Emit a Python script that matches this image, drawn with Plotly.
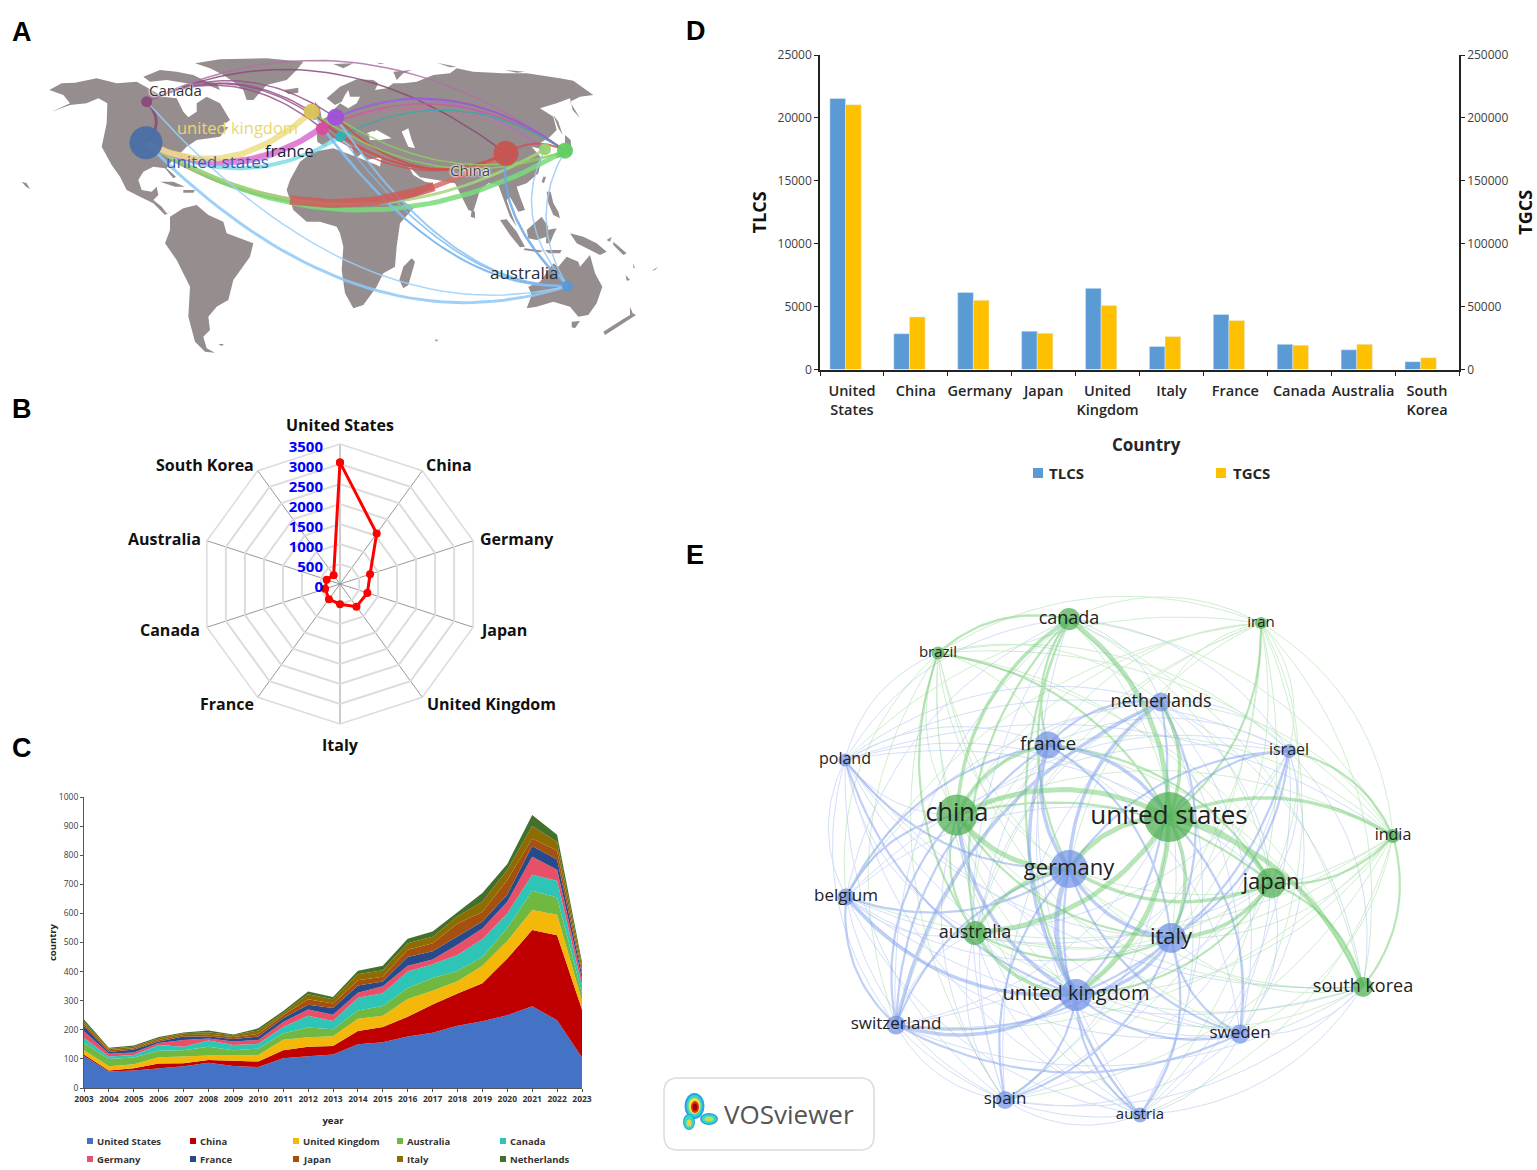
import itertools
import plotly.graph_objects as go

W, H = 1537, 1170
FONT = "Open Sans"
GRAY = "#404040"

# ---- A: world map, outlines (map units = 3 per pixel)
land = [
    # north america
    [(88,150),(125,130),(165,128),(230,115),(290,130),(350,125),(385,145),(430,170),(470,175),(490,215),(505,232),(530,215),(530,190),(560,170),(600,190),(630,240),(605,258),(625,262),(600,290),(530,300),(500,320),(470,350),(450,370),(440,385),(468,410),(460,415),(435,385),(400,380),(370,395),(355,420),(365,450),(395,455),(410,440),(415,465),(400,480),(425,500),(440,520),(450,515),(435,525),(400,490),(360,470),(320,450),(300,410),(275,375),(245,320),(260,250),(262,190),(235,175),(200,190),(150,195),(95,215),(150,190),(130,165)],
    [(370,110),(420,90),(470,95),(520,105),(560,125),(590,130),(600,150),(550,130),(500,130),(440,120),(390,125)],
    [(525,70),(600,58),(740,55),(850,65),(830,90),(800,120),(740,135),(700,180),(680,180),(670,150),(640,125),(610,105),(570,85)],
    [(420,425),(460,425),(495,440),(465,440)],
    [(490,450),(525,450),(520,458),(490,458)],
    [(790,150),(835,143),(835,158),(805,162)],
    [(5,425),(20,430),(30,447),(18,440)],
    # south america
    [(450,530),(490,505),(530,495),(565,525),(610,545),(620,580),(700,610),(690,650),(640,720),(625,780),(590,800),(565,830),(570,870),(550,890),(560,925),(585,938),(555,935),(525,905),(505,830),(510,740),(470,660),(435,610),(450,570)],
    [(595,912),(612,912),(605,918)],
    # africa
    [(800,450),(810,420),(840,365),(880,335),(940,325),(1020,355),(1070,375),(1090,385),(1145,480),(1180,505),(1140,550),(1130,620),(1125,680),(1090,700),(1070,740),(1030,795),(1000,805),(975,760),(965,690),(970,620),(960,580),(950,560),(900,545),(860,545),(820,510)],
    [(1175,655),(1185,665),(1165,735),(1150,745),(1138,720),(1150,680)],
    # eurasia
    [(892,305),(890,272),(915,265),(905,240),(930,225),(945,205),(960,190),(985,205),(1010,190),(1020,170),(990,170),(985,150),(975,165),(965,185),(945,195),(920,175),(960,140),(1010,118),(1060,120),(1075,130),(1065,150),(1100,145),(1120,130),(1150,130),(1190,125),(1240,105),(1290,100),(1310,85),(1360,95),(1450,100),(1520,100),(1620,115),(1660,122),(1720,165),(1680,170),(1650,185),(1680,235),(1658,210),(1650,175),(1610,190),(1560,205),(1600,230),(1610,270),(1590,290),(1560,310),(1575,335),(1555,325),(1535,320),(1565,355),(1555,400),(1520,430),(1490,440),(1500,470),(1515,510),(1495,515),(1470,470),(1460,480),(1470,510),(1490,560),(1470,530),(1455,490),(1435,435),(1405,430),(1380,450),(1360,515),(1345,510),(1315,450),(1305,430),(1250,420),(1200,412),(1165,378),(1180,405),(1215,425),(1240,430),(1210,460),(1145,485),(1125,450),(1090,395),(1080,380),(1085,350),(1040,360),(1025,340),(1020,345),(1005,355),(995,320),(960,295),(930,300),(915,320)],
    [(885,185),(900,205),(905,235),(880,240),(885,215)],
    [(860,215),(875,215),(870,235),(855,232)],
    [(940,72),(1000,70),(970,85)],
    [(1070,68),(1095,70),(1080,72)],
    [(1250,68),(1310,80),(1290,82)],
    [(1455,90),(1515,95),(1490,98)],
    [(1120,95),(1175,90),(1150,100),(1130,120)],
    # japan, east and south-east asia
    [(1600,225),(1615,245),(1628,285),(1615,265)],
    [(1635,285),(1652,300),(1655,340),(1610,355),(1605,345),(1635,325)],
    [(1570,410),(1578,410),(1572,430),(1565,425)],
    [(1580,455),(1592,455),(1600,490),(1615,515),(1620,535),(1600,525),(1585,490)],
    [(1355,510),(1365,515),(1365,535),(1352,530)],
    [(1440,540),(1460,538),(1490,575),(1515,620),(1500,622),(1470,585)],
    [(1520,570),(1565,530),(1585,560),(1580,590),(1550,600),(1525,595)],
    [(1515,625),(1570,632),(1560,637),(1510,630)],
    [(1575,630),(1625,630),(1620,640),(1585,640)],
    [(1580,570),(1610,565),(1600,585),(1590,610),(1578,610)],
    [(1650,580),(1690,590),(1730,610),(1760,635),(1740,645),(1700,625),(1670,610)],
    [(1760,600),(1775,590),(1770,605)],
    [(1780,605),(1820,640),(1810,645),(1780,615)],
    # australia and around
    [(1525,740),(1560,725),(1600,670),(1615,680),(1640,650),(1675,665),(1680,680),(1710,645),(1725,700),(1747,740),(1730,790),(1705,825),(1675,830),(1650,800),(1600,785),(1550,800),(1520,805),(1535,765)],
    [(1655,845),(1680,843),(1665,865),(1655,862)],
    [(1830,800),(1838,820),(1848,825),(1810,850),(1755,885),(1750,875),(1805,840),(1830,825)],
    [(1840,670),(1845,685),(1840,683)],
    [(1895,692),(1915,680),(1905,690)],
    [(1817,705),(1830,720),(1820,722)],
    [(1245,898),(1255,900),(1248,905)],
]
inland_seas = [
    [(1045,285),(1070,270),(1115,295),(1080,300),(1050,300)],
    [(1145,275),(1165,265),(1175,300),(1185,325),(1165,320)],
    [(1040,280),(1060,272),(1062,290)],
]

map_nodes = {
    "us": (378, 308, 33, "#4a6fa5"), "ca": (380, 185, 11, "#8a4a7a"), "uk": (875, 215, 16, "#d9c45a"),
    "de": (947, 232, 17, "#a050d8"), "fr": (907, 266, 13, "#d84a9c"), "it": (962, 290, 11, "#30b0b8"),
    "cn": (1458, 340, 25, "#c85450"), "kr": (1575, 328, 12, "#98d070"), "jp": (1635, 332, 16, "#60d060"),
    "au": (1642, 738, 11, "#5898d8"),
}
# source, target, colour, width, sideways shift and drop of the curve middle
map_flows = [
    ("us","cn","#d96b68",5,0,166), ("us","jp","#79dc79",5,0,190), ("us","kr","#a5d67b",3,0,175),
    ("us","it","#7fdfe6",4,0,86), ("us","de","#c880ea",6,0,95), ("us","fr","#e77cd0",5,0,75), ("us","uk","#eedf85",6,0,89),
    ("ca","us","#8a4a7a",3,30,0), ("ca","uk","#96558a",1.5,0,-70), ("ca","de","#96558a",1.5,0,-85),
    ("ca","fr","#96558a",1.5,0,-85), ("ca","it","#96558a",1.5,0,-100), ("ca","cn","#8a4a7a",1.5,0,-165), ("ca","jp","#b070a5",1.5,0,-190),
    ("de","jp","#9a55dd",2,0,-100), ("de","kr","#a46be0",1,0,-95), ("fr","jp","#d05a9a",1.5,0,-105), ("fr","kr","#d06aa0",1,0,-90),
    ("it","jp","#3aa9a9",1.5,0,-100), ("uk","cn","#cc5555",2,0,100), ("de","cn","#c9504a",2,0,95), ("fr","cn","#cc5555",1.5,0,85),
    ("it","cn","#cc5555",1.5,0,70), ("cn","jp","#cc5555",2,0,-25), ("uk","jp","#8fcf60",1.5,0,105), ("de","jp","#8fcf60",1.5,0,85),
    ("us","au","#8fc9f7",3,0,210), ("ca","au","#9bd0f8",1.5,0,215), ("de","au","#8cc4f5",2,0,130), ("uk","au","#8cc4f5",2,0,140),
    ("fr","au","#7db8ee",1.5,0,125), ("it","au","#7db8ee",1.5,0,115), ("cn","au","#6aaae6",2.5,-60,0),
    ("kr","au","#9ccbf5",1.5,-70,0), ("jp","au","#9ccbf5",1.5,-60,0),
]

# ---- B: radar
radar_countries = ["United States","China","Germany","Japan","United Kingdom","Italy","France","Canada","Australia","South Korea"]
radar_values = [3040, 1560, 790, 720, 700, 505, 470, 390, 350, 270]
# where the country names sit, by their centre
radar_label_pos = [(340,425),(449,465),(517,539),(503,630),(491,704),(340,745),(227,704),(170,630),(164,539),(205,465)]

# ---- C: yearly stacked area
years = list(range(2003, 2024))
area_series = {
    "United States": [110,57,60,68,75,87,76,72,102,109,115,150,157,177,190,214,229,250,281,233,105],
    "China": [5,3,8,16,10,9,18,19,28,33,29,46,53,68,97,111,131,195,262,292,165],
    "United Kingdom": [15,15,14,22,23,16,18,22,36,32,34,42,38,61,47,42,60,60,69,70,30],
    "Australia": [25,25,23,22,22,30,18,22,21,34,24,28,34,38,44,35,30,45,66,60,25],
    "Canada": [17,8,8,20,12,21,18,17,23,40,28,44,44,56,47,55,62,50,55,57,27],
    "Germany": [23,10,9,7,23,7,12,13,17,22,22,17,24,20,17,35,36,40,62,38,23],
    "France": [17,6,10,5,12,7,8,12,13,16,23,25,16,30,28,28,24,25,37,35,15],
    "Japan": [8,6,5,5,5,6,7,9,10,19,15,18,16,25,27,45,33,50,25,30,13],
    "Italy": [8,5,5,6,6,9,6,12,8,17,15,21,23,22,23,25,35,35,43,30,17],
    "Netherlands": [7,3,4,4,3,6,3,7,7,10,8,12,15,16,18,15,30,20,38,25,12],
}
area_colors = ["#4472c4","#c00000","#f4b80a","#70b83f","#2ec4b6","#e8506a","#264a8a","#a5500f","#8e6c00","#43702b"]

# ---- D: bars
bar_countries = ["United<br>States","China","Germany","Japan","United<br>Kingdom","Italy","France","Canada","Australia","South<br>Korea"]
tlcs = [21550, 2850, 6130, 3050, 6450, 1830, 4380, 2000, 1570, 620]
tgcs = [210500, 41800, 55000, 28800, 50800, 26200, 39000, 19300, 20000, 9300]

# ---- E: collaboration network: label, x, y, node size, label size, cluster
net_nodes = {
    "us": ("united states",1169,817,50,26,"g"), "cn": ("china",957,815,41,25,"g"), "jp": ("japan",1271,883,30,22,"g"),
    "ca": ("canada",1069,619,22,18,"g"), "au": ("australia",975,933,24,18,"g"), "kr": ("south korea",1363,987,20,18,"g"),
    "in": ("india",1393,836,14,16,"g"), "ir": ("iran",1261,623,12,15,"g"), "br": ("brazil",938,653,13,15,"g"),
    "de": ("germany",1069,869,38,22,"b"), "it": ("italy",1171,938,30,22,"b"), "uk": ("united kingdom",1076,995,32,20,"b"),
    "fr": ("france",1048,745,27,19,"b"), "nl": ("netherlands",1161,702,19,18,"b"), "il": ("israel",1289,751,14,16,"b"),
    "pl": ("poland",845,760,13,16,"b"), "be": ("belgium",846,897,17,17,"b"), "ch": ("switzerland",896,1025,19,17,"b"),
    "se": ("sweden",1240,1034,19,17,"b"), "es": ("spain",1005,1100,18,17,"b"), "at": ("austria",1140,1115,15,15,"b"),
}
# the first node of a weighted link gives its colour
links_heavy = [("us","cn"),("us","ca"),("us","de"),("us","uk"),("us","jp"),("us","kr"),("de","uk"),("cn","de"),("us","au")]
links_mid = [("us","it"),("fr","us"),("uk","cn"),("us","nl"),("us","in"),("de","it"),("uk","it"),("de","fr"),("uk","ch"),("fr","uk"),("nl","de"),("jp","de"),("uk","be"),("cn","fr"),("au","de"),("cn","ca"),("au","uk"),("jp","it"),("nl","ch")]
links_light = [("il","us"),("us","ir"),("se","us"),("us","br"),("cn","jp"),("cn","au"),("cn","it"),("au","it"),("jp","uk"),("jp","fr"),("ca","fr"),("ca","de"),("ca","uk"),("ca","br"),("be","de"),("be","cn"),("be","fr"),("ch","de"),("ch","it"),("ch","fr"),("ch","se"),("se","uk"),("se","it"),("se","de"),("es","uk"),("es","de"),("es","it"),("at","uk"),("at","de"),("at","it"),("nl","uk"),("nl","it"),("nl","fr"),("il","it"),("il","uk"),("il","de"),("pl","uk"),("pl","de"),("jp","kr"),("jp","in"),("fr","it"),("ch","cn"),("ch","be"),("br","au"),("ca","au"),("in","il"),("in","kr")]

panel_letters = {"A": (10, 15), "B": (10, 409), "C": (10, 748), "D": (696, 14), "E": (695, 555)}


def px(x):
    return x / W


def py(y):
    return 1 - y / H


def curve(a, b, ctrl, n=24):
    xs, ys = [], []
    for i in range(n + 1):
        t = i / n
        xs.append((1 - t) ** 2 * a[0] + 2 * t * (1 - t) * ctrl[0] + t ** 2 * b[0])
        ys.append((1 - t) ** 2 * a[1] + 2 * t * (1 - t) * ctrl[1] + t ** 2 * b[1])
    return xs, ys


shapes = []


def add_polygons(polys, color):
    # drawn as path shapes on the map's own axes, under the flows
    for poly in polys:
        path = "M " + " L ".join(f"{p[0]} {p[1]}" for p in poly) + " Z"
        shapes.append(dict(type="path", xref="x", yref="y", path=path, fillcolor=color, line=dict(width=0), layer="below"))


fig = go.Figure()

# A: map panel
add_polygons(land, "#968e8e")
add_polygons(inland_seas, "#ffffff")
for src, dst, color, width, dx, dy in map_flows:
    a, b = map_nodes[src], map_nodes[dst]
    ctrl = ((a[0] + b[0]) / 2 + 2 * dx, (a[1] + b[1]) / 2 + 2 * dy)
    cx, cy = curve(a, b, ctrl, 40)
    fig.add_trace(go.Scatter(x=cx, y=cy, mode="lines", line=dict(color=color, width=width), opacity=0.85, hoverinfo="skip", xaxis="x", yaxis="y"))
# thick red stretch of the us-china flow
a, b = map_nodes["us"], map_nodes["cn"]
cx, cy = curve(a, b, ((a[0] + b[0]) / 2, (a[1] + b[1]) / 2 + 332), 40)
fig.add_trace(go.Scatter(x=cx[16:33], y=cy[16:33], mode="lines", line=dict(color="#cb5f5c", width=9), opacity=0.85, hoverinfo="skip", xaxis="x", yaxis="y"))
fig.add_trace(go.Scatter(
    x=[n[0] for n in map_nodes.values()], y=[n[1] for n in map_nodes.values()], mode="markers",
    marker=dict(size=[n[2] for n in map_nodes.values()], color=[n[3] for n in map_nodes.values()], opacity=0.95, line=dict(width=0)),
    hoverinfo="skip", xaxis="x", yaxis="y"))

# B: radar
fig.add_trace(go.Scatterpolar(
    r=radar_values + radar_values[:1], theta=radar_countries + radar_countries[:1], mode="lines+markers",
    line=dict(color="#ff0000", width=3), marker=dict(color="#ff0000", size=8), subplot="polar"))

# C: stacked area
for (name, vals), color in zip(area_series.items(), area_colors):
    fig.add_trace(go.Scatter(x=years, y=vals, name=name, mode="lines", stackgroup="one", fillcolor=color,
                             line=dict(width=0, color=color), xaxis="x2", yaxis="y2"))

# D: bars on two scales
fig.add_trace(go.Bar(x=bar_countries, y=tlcs, name="TLCS", marker_color="#5b9bd5", width=0.245, offset=-0.345, xaxis="x3", yaxis="y3"))
fig.add_trace(go.Bar(x=bar_countries, y=tgcs, name="TGCS", marker_color="#ffc000", width=0.245, offset=-0.10, xaxis="x3", yaxis="y4"))

# E: network
center = (1110, 850)
weights = {}
for pair in links_heavy:
    weights[pair] = 5
for pair in links_mid:
    weights[pair] = 3.5
for pair in links_light:
    weights[pair] = 2.2
edge_groups = {}
for p, q in itertools.combinations(net_nodes, 2):
    a, b = net_nodes[p], net_nodes[q]
    if (p, q) in weights:
        w, cluster = weights[(p, q)], a[5]
    elif (q, p) in weights:
        w, cluster = weights[(q, p)], b[5]
    else:
        # thin links take the colour of the smaller node
        w, cluster = 1, (a[5] if a[3] < b[3] else b[5])
    ax, ay, bx, by = a[1], a[2], b[1], b[2]
    mx, my = (ax + bx) / 2, (ay + by) / 2
    nx, ny = -(by - ay), bx - ax
    if nx * (mx - center[0]) + ny * (my - center[1]) < 0:
        nx, ny = -nx, -ny
    cx, cy = curve((ax, ay), (bx, by), (mx + 0.25 * nx, my + 0.25 * ny))
    group = edge_groups.setdefault((cluster, w), ([], []))
    group[0].extend(cx + [None])
    group[1].extend(cy + [None])
edge_colors = {"g": "#6fcb6f", "b": "#7b9cec"}
for (cluster, w), (ex, ey) in sorted(edge_groups.items(), key=lambda kv: kv[0][1]):
    fig.add_trace(go.Scatter(x=ex, y=ey, mode="lines", line=dict(color=edge_colors[cluster], width=w),
                             opacity=0.32 if w <= 1 else 0.48, hoverinfo="skip", xaxis="x4", yaxis="y5"))
nodes = list(net_nodes.values())
fig.add_trace(go.Scatter(
    x=[n[1] for n in nodes], y=[n[2] for n in nodes], text=[n[0] for n in nodes], mode="markers+text",
    textposition="middle center", textfont=dict(family=FONT, size=[n[4] for n in nodes], color="#222222"),
    marker=dict(size=[n[3] for n in nodes], color=["#48ad4c" if n[5] == "g" else "#6e90e4" for n in nodes], line=dict(width=0)),
    hoverinfo="skip", xaxis="x4", yaxis="y5"))

annotations = []


def label(x, y, text, size, color="#000000", weight="normal", xanchor="center", shadow="none", angle=0):
    annotations.append(dict(x=px(x), y=py(y), xref="paper", yref="paper", text=text, showarrow=False, xanchor=xanchor,
                            yanchor="middle", textangle=angle, font=dict(family=FONT, size=size, color=color, weight=weight, shadow=shadow)))


for letter, (lx, ly) in panel_letters.items():
    annotations.append(dict(x=px(lx), y=py(ly), xref="paper", yref="paper", text=letter, showarrow=False,
                            font=dict(family="Liberation Sans", size=27, color="#000000", weight="bold")))

halo = "white 0 0 2px, white 0 0 2px, white 0 0 3px"
label(175, 90, "Canada", 15, "#333333", shadow=halo)
label(237, 127, "united kingdom", 16.5, "#e8d870")
label(289, 150, "france", 16.5, "#222233")
label(218, 162, "united states", 17, "#3a5fb0")
label(470, 170, "China", 15, "#444444", shadow=halo)
label(524, 272, "australia", 17, "#2a2f3a")

for name, (lx, ly) in zip(radar_countries, radar_label_pos):
    label(lx, ly, name, 16, "#111111", "bold")


def swatch(x0, y, size, color):
    shapes.append(dict(type="rect", xref="paper", yref="paper", x0=px(x0), x1=px(x0 + size), y0=py(y + size / 2), y1=py(y - size / 2),
                       fillcolor=color, line=dict(width=0)))


# C legend, two rows of five
legend_cols = [87, 190, 293, 397, 500]
for i, (name, color) in enumerate(zip(area_series, area_colors)):
    col = legend_cols[i % 5]
    row_y = 1141 if i < 5 else 1159
    swatch(col, row_y, 6, color)
    label(col + 8, row_y, name, 9.5, "#333333", "bold", "left")

# D legend and x title
swatch(1033, 473, 10, "#5b9bd5")
label(1047, 473, "TLCS", 15, "#262626", "bold", "left")
swatch(1216, 473, 10, "#ffc000")
label(1231, 473, "TGCS", 15, "#262626", "bold", "left")
label(1146, 444, "Country", 17, "#262626", "bold")

# VOSviewer badge
shapes.append(dict(type="path", xref="paper", yref="paper",
                   path=" ".join([
                       f"M {px(678)} {py(1078)}", f"L {px(860)} {py(1078)}", f"Q {px(874)} {py(1078)} {px(874)} {py(1092)}",
                       f"L {px(874)} {py(1136)}", f"Q {px(874)} {py(1150)} {px(860)} {py(1150)}", f"L {px(678)} {py(1150)}",
                       f"Q {px(664)} {py(1150)} {px(664)} {py(1136)}", f"L {px(664)} {py(1092)}", f"Q {px(664)} {py(1078)} {px(678)} {py(1078)} Z"]),
                   fillcolor="white", line=dict(color="#dcdcdc", width=1.5), layer="above"))
logo_blobs = [
    (694.5, 1106, 10, 13, "#2b9fe8"), (694.5, 1106, 8, 11, "#35d8c0"), (694.5, 1106, 6, 8, "#f0e040"), (695, 1107, 4, 6, "#e03010"), (695, 1107, 2.5, 3.5, "#a00000"),
    (689, 1122, 6, 8, "#2b9fe8"), (689, 1122, 5, 7, "#35d8c0"), (689, 1123, 2.5, 3.5, "#f0d040"),
    (709, 1119, 9, 6, "#2b9fe8"), (709, 1119, 7.5, 4.5, "#35d8c0"), (709, 1119, 4.5, 2.5, "#b8e060"),
]
for bx, by, rx, ry, color in logo_blobs:
    shapes.append(dict(type="circle", xref="paper", yref="paper", x0=px(bx - rx), x1=px(bx + rx), y0=py(by + ry), y1=py(by - ry),
                       fillcolor=color, line=dict(width=0), layer="above"))
label(789, 1114, "VOSviewer", 26, "#555555")

fig.update_layout(
    width=W, height=H, margin=dict(l=0, r=0, t=0, b=0, autoexpand=False), paper_bgcolor="white", plot_bgcolor="white",
    showlegend=False, font=dict(family=FONT), annotations=annotations, shapes=shapes, barmode="overlay",
    # A
    xaxis=dict(domain=[0, px(680)], range=[-60, 1980], visible=False, anchor="y"),
    yaxis=dict(domain=[py(380), 1], range=[1020, -120], visible=False, anchor="x"),
    # B
    polar=dict(
        domain=dict(x=[px(200), px(480)], y=[py(724), py(444)]), bgcolor="white",
        radialaxis=dict(range=[0, 3500], dtick=500, angle=90, side="counterclockwise", gridcolor="#dcdcdc", gridwidth=1.5, showline=False,
                        ticks="outside", ticklen=3, tickcolor="rgba(0,0,0,0)", tickfont=dict(family=FONT, size=15, color="#0000ff", weight="bold")),
        angularaxis=dict(direction="clockwise", rotation=90, categoryorder="array", categoryarray=radar_countries, gridcolor="#999999", gridwidth=1.2,
                         linecolor="#dcdcdc", linewidth=1.5, ticks="", showticklabels=False),
        gridshape="linear"),
    # C
    xaxis2=dict(domain=[px(84), px(582)], range=[2003, 2023], tick0=2003, dtick=1, anchor="y2", showgrid=False, showline=True, linecolor="#555555", linewidth=1,
                ticks="outside", ticklen=3, tickcolor="#555555", tickfont=dict(size=8.5, color="#333333", weight="bold"),
                title=dict(text="year", font=dict(size=9.5, color="#222222", weight="bold"), standoff=14)),
    yaxis2=dict(domain=[py(1088), py(797)], range=[0, 1000], dtick=100, anchor="x2", showgrid=False, showline=True, linecolor="#555555", linewidth=1,
                ticks="outside", ticklen=3, tickcolor="#555555", tickfont=dict(size=8.5, color=GRAY),
                title=dict(text="country", font=dict(size=9.5, color="#222222", weight="bold"), standoff=0)),
    # D
    xaxis3=dict(domain=[px(820), px(1459)], anchor="y3", type="category", categoryorder="array", categoryarray=bar_countries, tickson="boundaries",
                tickangle=0, showgrid=False, showline=True, linecolor="#222222", linewidth=1.5, ticks="outside", ticklen=5, tickcolor="#222222",
                ticklabelstandoff=7, tickfont=dict(size=14.5, color="#262626", weight=600)),
    yaxis3=dict(domain=[py(369.5), py(55)], range=[0, 25000], dtick=5000, tickformat="d", anchor="x3", showgrid=False, showline=True, linecolor="#222222", linewidth=1.5,
                ticks="outside", ticklen=4, tickcolor="#222222", tickfont=dict(size=12, color=GRAY),
                title=dict(text="TLCS", font=dict(size=18, color="#111111", weight="bold"), standoff=6)),
    yaxis4=dict(range=[0, 250000], dtick=50000, tickformat="d", overlaying="y3", side="right", anchor="x3", showgrid=False, showline=True, linecolor="#222222", linewidth=1.5,
                ticks="outside", ticklen=4, tickcolor="#222222", tickfont=dict(size=12, color=GRAY),
                title=dict(text="TGCS", font=dict(size=18, color="#111111", weight="bold"), standoff=14)),
    # E
    xaxis4=dict(domain=[px(660), 1], range=[660, 1537], visible=False, anchor="y5"),
    yaxis5=dict(domain=[0, py(570)], range=[1170, 570], visible=False, anchor="x4"),
)

fig.write_html("out.html", post_script="document.body.style.margin='0';", config={"displayModeBar": False})
